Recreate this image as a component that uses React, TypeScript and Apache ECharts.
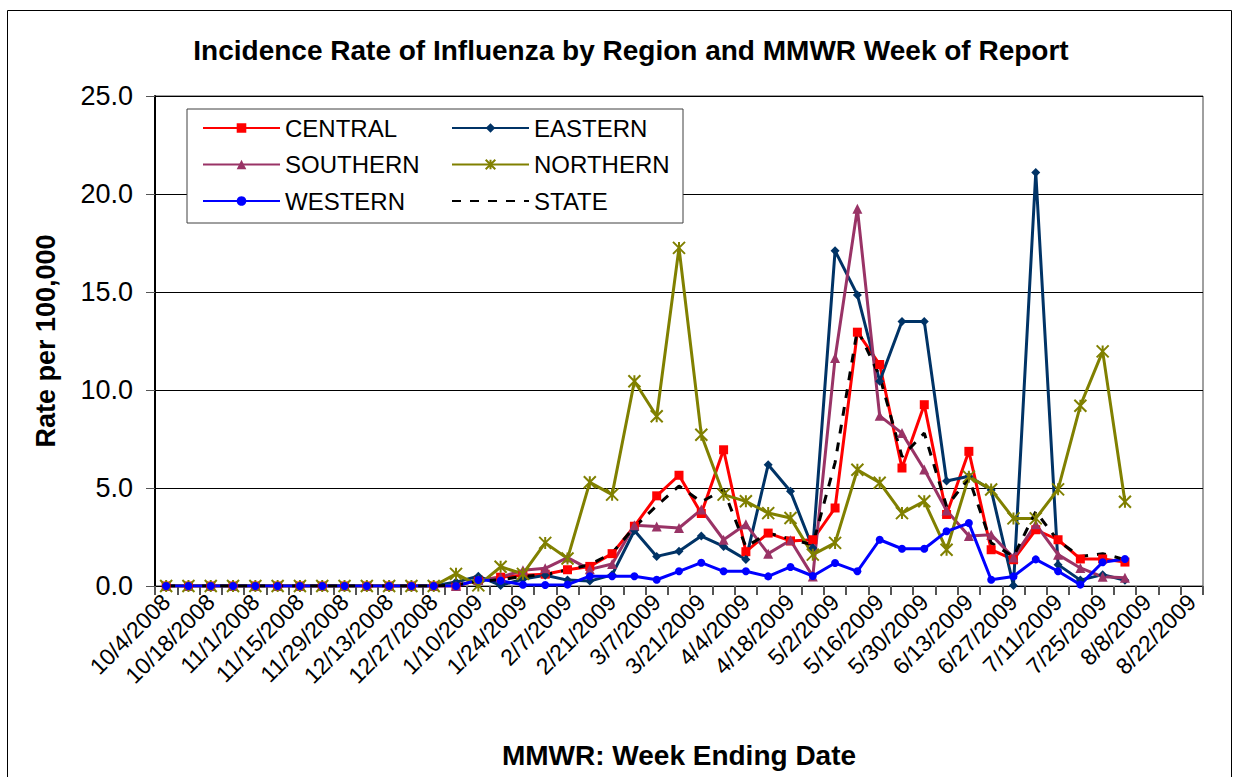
import React, { useEffect, useRef } from "react";
import * as echarts from "echarts";

const weeks = [
  "10/4/2008", "10/11/2008", "10/18/2008", "10/25/2008", "11/1/2008", "11/8/2008",
  "11/15/2008", "11/22/2008", "11/29/2008", "12/6/2008", "12/13/2008", "12/20/2008",
  "12/27/2008", "1/3/2009", "1/10/2009", "1/17/2009", "1/24/2009", "1/31/2009",
  "2/7/2009", "2/14/2009", "2/21/2009", "2/28/2009", "3/7/2009", "3/14/2009",
  "3/21/2009", "3/28/2009", "4/4/2009", "4/11/2009", "4/18/2009", "4/25/2009",
  "5/2/2009", "5/9/2009", "5/16/2009", "5/23/2009", "5/30/2009", "6/6/2009",
  "6/13/2009", "6/20/2009", "6/27/2009", "7/4/2009", "7/11/2009", "7/18/2009",
  "7/25/2009", "8/1/2009", "8/8/2009", "8/15/2009", "8/22/2009",
];

const central = [
  0, 0, 0, 0, 0, 0, 0, 0, 0, 0, 0, 0, 0, 0, 0.3, 0.45, 0.55, 0.6, 0.83, 1.0,
  1.65, 3.05, 4.6, 5.65, 3.7, 6.95, 1.75, 2.7, 2.3, 2.36, 3.98, 12.95, 11.3, 6.02,
  9.25, 3.65, 6.87, 1.85, 1.34, 2.87, 2.36, 1.38, 1.38, 1.22, null, null, null,
];
const eastern = [
  0, 0, 0, 0, 0, 0, 0, 0, 0, 0, 0, 0, 0, 0.2, 0.5, 0.03, 0.35, 0.55, 0.3, 0.25,
  0.57, 2.83, 1.51, 1.77, 2.55, 2.02, 1.35, 6.19, 4.83, 1.94, 17.1, 14.85, 10.45, 13.5,
  13.5, 5.36, 5.6, 4.9, 0.02, 21.1, 1.09, 0.3, 0.58, 0.29, null, null, null,
];
const southern = [
  0, 0, 0, 0, 0, 0, 0, 0, 0, 0, 0, 0, 0, 0, 0.3, 0.45, 0.8, 0.9, 1.45, 0.85,
  1.12, 3.1, 3.04, 2.96, 3.9, 2.36, 3.15, 1.65, 2.33, 0.49, 11.63, 19.25, 8.68, 7.8,
  5.94, 3.85, 2.55, 2.62, 1.45, 3.15, 1.6, 0.92, 0.47, 0.42, null, null, null,
];
const northern = [
  0, 0, 0, 0, 0, 0, 0, 0, 0, 0, 0, 0, 0, 0.62, 0.03, 0.98, 0.62, 2.2, 1.4, 5.29,
  4.66, 10.45, 8.66, 17.25, 7.72, 4.66, 4.32, 3.72, 3.47, 1.6, 2.2, 5.93, 5.27, 3.72,
  4.32, 1.85, 5.58, 4.92, 3.45, 3.45, 4.93, 9.2, 11.97, 4.3, null, null, null,
];
const western = [
  0, 0, 0, 0, 0, 0, 0, 0, 0, 0, 0, 0, 0, 0, 0.31, 0.27, 0.06, 0.05, 0.07, 0.5,
  0.5, 0.5, 0.32, 0.75, 1.19, 0.75, 0.75, 0.49, 0.97, 0.51, 1.17, 0.75, 2.36, 1.9,
  1.9, 2.79, 3.21, 0.32, 0.49, 1.36, 0.75, 0.07, 1.21, 1.38, null, null, null,
];
const state = [
  0, 0, 0, 0, 0, 0, 0, 0, 0, 0, 0, 0, 0, 0.05, 0.25, 0.32, 0.49, 0.57, 0.83, 1.09,
  1.68, 3.0, 4.1, 5.1, 4.3, 4.9, 2.0, 2.7, 2.4, 2.1, 6.3, 13.1, 10.7, 6.6,
  7.8, 4.06, 5.5, 2.2, 1.5, 3.8, 2.3, 1.5, 1.65, 1.35, null, null, null,
];

const FONT = "'Liberation Sans', Arial, sans-serif";
const ASTERISK = "path://M0,0L10,10M10,0L0,10M5,0L5,10";

function mkSeries(name: string, data: (number | null)[], color: string, symbol: string, size: number, extra: any = {}) {
  return {
    name,
    type: "line",
    data,
    symbol,
    symbolSize: size,
    showAllSymbol: true,
    connectNulls: false,
    lineStyle: { color, width: 3 },
    itemStyle: { color },
    emphasis: { disabled: true },
    ...extra,
  };
}

export default function App() {
  const ref = useRef<HTMLDivElement>(null);
  useEffect(() => {
    document.body.style.margin = "0";
    const chart = echarts.init(ref.current!, null, { renderer: "svg" });
    const legendText = { fontFamily: FONT, fontSize: 24, color: "#000", lineHeight: 24 };
    const legendCommon = {
      orient: "vertical",
      top: 111,
      itemWidth: 77,
      itemHeight: 12,
      itemGap: 12.5,
      textStyle: legendText,
      z: 10,
    };
    chart.setOption({
      animation: false,
      backgroundColor: "#fff",
      title: {
        text: "Incidence Rate of Influenza by Region and MMWR Week of Report",
        left: 626,
        textAlign: "center",
        top: 31,
        textStyle: { fontFamily: FONT, fontSize: 28, fontWeight: "bold", color: "#000" },
      },
      grid: {
        left: 155,
        top: 96,
        right: 35,
        bottom: 191,
        show: true,
        borderColor: "#404040",
        borderWidth: 1,
        backgroundColor: "transparent",
      },
      legend: [
        {
          ...legendCommon,
          data: ["CENTRAL", "SOUTHERN", "WESTERN"],
          left: 197,
        },
        {
          ...legendCommon,
          data: [
            "EASTERN",
            "NORTHERN",
            { name: "STATE", itemStyle: { color: "rgba(0,0,0,0)", borderWidth: 0 } },
          ],
          left: 446,
        },
      ],
      graphic: [
        {
          type: "rect",
          shape: { x: 187, y: 109, width: 496, height: 114 },
          style: { fill: "#fff", stroke: "#404040", lineWidth: 1 },
          z: 8,
        },
        {
          type: "rect",
          shape: { x: 7.5, y: 10.5, width: 1224, height: 790 },
          style: { fill: "none", stroke: "#000", lineWidth: 1 },
          z: 1,
          silent: true,
        },
      ],
      xAxis: {
        type: "category",
        data: weeks,
        boundaryGap: true,
        name: "MMWR: Week Ending Date",
        nameLocation: "middle",
        nameGap: 155,
        nameTextStyle: { fontFamily: FONT, fontSize: 28, fontWeight: "bold", color: "#000" },
        axisLine: { lineStyle: { color: "#000", width: 1 } },
        axisTick: { show: true, interval: 0, length: 9, lineStyle: { color: "#555", width: 2 } },
        axisLabel: {
          interval: 1,
          rotate: 45,
          margin: 12,
          fontFamily: FONT,
          fontSize: 23,
          color: "#000",
        },
        splitLine: { show: false },
      },
      yAxis: {
        type: "value",
        min: 0,
        max: 25,
        interval: 5,
        name: "Rate per 100,000",
        nameLocation: "middle",
        nameGap: 96,
        nameRotate: 90,
        nameTextStyle: { fontFamily: FONT, fontSize: 27, fontWeight: "bold", color: "#000" },
        axisLine: { show: true, lineStyle: { color: "#000", width: 2 } },
        axisTick: { show: true, length: 9, lineStyle: { color: "#555", width: 1 } },
        axisLabel: {
          formatter: (v: number) => v.toFixed(1),
          fontFamily: FONT,
          fontSize: 27,
          color: "#000",
          margin: 22,
        },
        splitLine: { show: true, lineStyle: { color: "#000", width: 1 } },
      },
      series: [
        mkSeries("CENTRAL", central, "#FF0000", "rect", 9),
        mkSeries("EASTERN", eastern, "#003366", "diamond", 9),
        mkSeries("SOUTHERN", southern, "#993366", "triangle", 10),
        mkSeries("NORTHERN", northern, "#808000", ASTERISK, 12, {
          itemStyle: { color: "#808000", borderColor: "#808000", borderWidth: 2 },
        }),
        mkSeries("WESTERN", western, "#0000FF", "circle", 8),
        mkSeries("STATE", state, "#000000", "none", 0, {
          showSymbol: false,
          lineStyle: { color: "#000", width: 3, type: [9, 9] },
        }),
      ],
    });
    return () => chart.dispose();
  }, []);
  return <div ref={ref} style={{ width: 1238, height: 777 }} />;
}
